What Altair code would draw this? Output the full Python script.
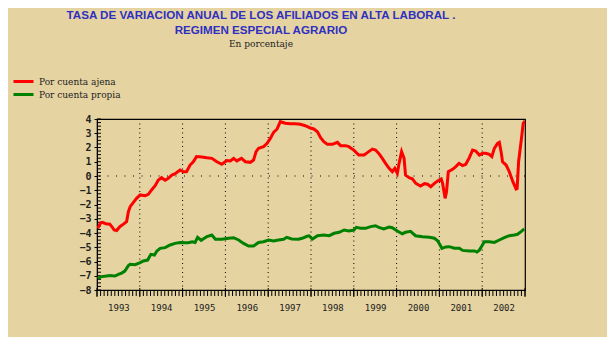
import altair as alt
import pandas as pd

# ---------------- data ----------------
SERIES = ["Por cuenta ajena", "Por cuenta propia"]
COLORS = ["#FF0000", "#008000"]

# month offsets since January 1993 and annual rates (%)
ajena_m = [0.2, 1.0, 1.5, 2.5, 3.6, 4.3, 4.8, 5.5, 6.4, 7.4, 8.3, 8.8, 9.3, 10.2, 11.1, 12.1,
           13.5, 14.4, 15.3, 16.3, 17.2, 18.1, 19.1, 20.0, 21.0, 21.9, 23.3, 24.2, 25.1, 26.1,
           27.0, 27.9, 29.4, 30.8, 32.2, 33.6, 35.0, 36.4, 37.4, 38.3, 39.2, 40.5, 41.6, 43.0,
           43.9, 44.6, 45.3, 46.7, 47.7, 48.6, 49.5, 50.5, 51.4, 52.8, 54.2, 55.6, 57.0, 58.4,
           59.8, 60.8, 61.8, 62.7, 63.6, 64.6, 66.0, 67.4, 68.3, 69.7, 70.6, 72.0, 73.4, 74.9,
           75.8, 77.2, 78.1, 79.0, 80.0, 80.9, 81.9, 82.8, 83.5, 84.2, 84.7, 85.4, 86.1, 86.5,
           87.5, 88.4, 89.4, 90.7, 91.8, 92.7, 93.6, 94.6, 95.5, 96.5, 96.9, 97.6, 98.0, 98.5,
           99.7, 100.6, 101.5, 102.5, 103.4, 104.4, 105.3, 106.2, 107.2, 108.1, 109.0, 110.0,
           110.7, 111.4, 112.3, 112.8, 113.3, 113.7, 114.7, 115.6, 116.6, 117.5, 117.8, 118.2,
           118.9, 119.5, 120.0]
ajena_v = [-3.67, -3.30, -3.25, -3.35, -3.38, -3.60, -3.79, -3.83, -3.56, -3.38, -3.20, -2.50,
           -2.15, -1.85, -1.57, -1.33, -1.38, -1.29, -0.98, -0.68, -0.28, -0.12, -0.30, -0.16,
           0.07, 0.16, 0.42, 0.30, 0.30, 0.77, 1.00, 1.36, 1.34, 1.28, 1.24, 1.00, 0.82, 1.08,
           1.06, 1.24, 1.06, 1.24, 1.00, 0.96, 1.12, 1.71, 1.94, 2.06, 2.29, 2.64, 3.06, 3.30,
           3.81, 3.70, 3.67, 3.67, 3.63, 3.53, 3.37, 3.30, 3.11, 2.69, 2.41, 2.22, 2.22, 2.36,
           2.13, 2.13, 2.06, 1.82, 1.47, 1.47, 1.64, 1.89, 1.82, 1.59, 1.24, 0.89, 0.54, 0.30,
           0.54, 0.19, 0.89, 1.71, 1.24, 0.07, -0.12, -0.20, -0.52, -0.70, -0.54, -0.58, -0.75,
           -0.52, -0.35, -0.21, -0.52, -1.57, -1.10, 0.30, 0.47, 0.66, 0.89, 0.73, 0.82, 1.29,
           1.82, 1.75, 1.47, 1.59, 1.59, 1.52, 1.36, 1.94, 2.29, 2.36, 1.71, 1.00, 0.77, 0.30,
           -0.40, -0.91, -0.88, 1.00, 2.41, 3.70, 3.86]

propia_m = [0.2, 1.3, 2.7, 3.6, 5.0, 6.0, 6.9, 7.8, 8.8, 9.3, 10.7, 12.1, 13.0, 14.2, 15.1,
            16.1, 16.8, 17.7, 19.1, 20.5, 21.9, 23.3, 24.7, 25.6, 26.7, 27.5, 28.2, 29.2, 30.3,
            30.8, 32.2, 33.2, 35.0, 36.9, 38.3, 39.7, 41.1, 42.5, 43.9, 45.3, 46.7, 48.1, 49.5,
            50.9, 52.3, 53.2, 54.6, 56.5, 57.5, 58.9, 59.5, 60.4, 61.8, 63.6, 65.1, 66.5, 67.9,
            69.3, 70.6, 72.0, 72.7, 73.9, 75.3, 76.7, 78.1, 79.0, 80.4, 81.9, 82.8, 84.2, 85.6,
            86.5, 87.9, 89.3, 91.3, 93.2, 94.6, 95.5, 96.2, 96.7, 97.8, 98.8, 100.2, 101.6,
            102.5, 104.4, 105.8, 106.5, 107.2, 107.9, 108.6, 110.0, 111.4, 112.8, 114.2, 115.6,
            117.0, 117.9, 118.9, 119.8]
propia_v = [-7.18, -7.06, -7.02, -6.99, -7.02, -6.90, -6.81, -6.67, -6.29, -6.20, -6.22, -6.08,
            -5.96, -5.90, -5.50, -5.55, -5.26, -5.08, -5.03, -4.84, -4.73, -4.66, -4.68, -4.68,
            -4.61, -4.66, -4.30, -4.51, -4.33, -4.26, -4.14, -4.44, -4.44, -4.37, -4.33, -4.49,
            -4.73, -4.91, -4.91, -4.66, -4.61, -4.49, -4.56, -4.49, -4.44, -4.30, -4.42, -4.44,
            -4.37, -4.23, -4.20, -4.42, -4.19, -4.14, -4.19, -4.02, -3.95, -3.79, -3.86, -3.79,
            -3.60, -3.67, -3.67, -3.55, -3.49, -3.60, -3.72, -3.58, -3.63, -3.86, -4.05, -3.95,
            -3.88, -4.19, -4.26, -4.30, -4.37, -4.54, -4.84, -5.08, -4.98, -4.96, -5.07, -5.07,
            -5.22, -5.26, -5.26, -5.33, -5.20, -4.91, -4.61, -4.61, -4.66, -4.49, -4.33, -4.19,
            -4.14, -4.09, -3.90, -3.72]

START_YEAR = 1993
END_YEAR = 2003
YEAR_LABELS = list(range(1993, 2003))
GRID_YEARS = list(range(1994, 2003))
Y_TICKS = list(range(-8, 5))

TITLE_LINES = ["TASA DE VARIACION ANUAL DE LOS AFILIADOS EN ALTA LABORAL .",
               "REGIMEN ESPECIAL AGRARIO"]
SUBTITLE = "En porcentaje"

# ---------------- style ----------------
BG = "#E5D3A1"
TITLE_BLUE = "#3030C0"
INK = "#222222"
W, H = 428, 171

rows = []
for name, ms, vs in [(SERIES[0], ajena_m, ajena_v), (SERIES[1], propia_m, propia_v)]:
    for m, v in zip(ms, vs):
        rows.append({"serie": name, "t": START_YEAR + m / 12.0, "v": v})
df = pd.DataFrame(rows)

x_scale = alt.Scale(domain=[START_YEAR, END_YEAR], nice=False, zero=False)
y_scale = alt.Scale(domain=[Y_TICKS[0], Y_TICKS[-1]], nice=False, zero=False)

X_AXIS = alt.Axis(values=[y + 0.5 for y in YEAR_LABELS],
                  labelExpr="toString(floor(datum.value))",
                  ticks=False, grid=False, title=None,
                  domain=True, domainColor="black", domainWidth=1,
                  labelFont="DejaVu Sans Mono", labelFontSize=9,
                  labelColor=INK, labelPadding=13)
Y_AXIS = alt.Axis(values=Y_TICKS, grid=False, title=None,
                  tickSize=3, tickColor="black", domainColor="black",
                  labelFont="DejaVu Sans Mono", labelFontWeight="bold",
                  labelFontSize=10, labelColor=INK, labelPadding=3)


def xq(field):
    return alt.X(field, type="quantitative", scale=x_scale, axis=X_AXIS)


def yq(field):
    return alt.Y(field, type="quantitative", scale=y_scale, axis=Y_AXIS)


lines = alt.Chart(df).mark_line(strokeWidth=3, clip=True).encode(
    x=xq("t"),
    y=yq("v"),
    color=alt.Color("serie:N",
                    scale=alt.Scale(domain=SERIES, range=COLORS),
                    legend=alt.Legend(title=None, orient="none", legendX=-80, legendY=-44,
                                      symbolType="M-2,0H2", symbolStrokeWidth=3,
                                      symbolSize=100, labelFont="DejaVu Serif",
                                      labelFontSize=9, labelColor=INK, labelOffset=9,
                                      rowPadding=0)),
    order=alt.Order("t:Q"),
)

vgrid = alt.Chart(pd.DataFrame({"x": GRID_YEARS})).mark_rule(
    color="black", strokeDash=[1, 3.5], strokeWidth=1).encode(x=xq("x"))

hgrid = alt.Chart(pd.DataFrame({"y": [0]})).mark_rule(
    color="black", strokeDash=[1, 7.5], strokeWidth=1).encode(y=yq("y"))

month_ticks = alt.Chart(pd.DataFrame({"x": [START_YEAR + k / 12.0 for k in range(121)]})).mark_rule(
    color="black", strokeWidth=1).encode(
    x=xq("x"), y=alt.value(H), y2=alt.value(H + 6))

year_ticks = alt.Chart(pd.DataFrame({"x": list(range(START_YEAR, END_YEAR + 1))})).mark_rule(
    color="black", strokeWidth=1).encode(
    x=xq("x"), y=alt.value(H - 2), y2=alt.value(H + 7))

minor_y = alt.Chart(pd.DataFrame({"y": [Y_TICKS[0] + k * 0.25 for k in range(49)]})).mark_rule(
    color="black", strokeWidth=1).encode(
    y=yq("y"), x=alt.value(0), x2=alt.value(4))

chart = alt.layer(vgrid, hgrid, month_ticks, year_ticks, minor_y, lines).properties(
    width=W, height=H,
    background=BG,
    padding={"left": 89, "top": 111, "right": 82, "bottom": 47},
    autosize=alt.AutoSizeParams(type="none"),
    title=alt.TitleParams(text=TITLE_LINES, subtitle=SUBTITLE,
                          font="Liberation Sans", fontSize=11.6, fontWeight="bold",
                          color=TITLE_BLUE, lineHeight=15,
                          subtitleFont="DejaVu Serif", subtitleFontSize=9,
                          subtitleColor=INK, subtitlePadding=3,
                          anchor="middle", dx=-50, offset=26, frame="group"),
).configure_view(stroke="black", strokeWidth=1.2)

chart.save("out.html", embed_options={"renderer": "svg", "actions": False})
